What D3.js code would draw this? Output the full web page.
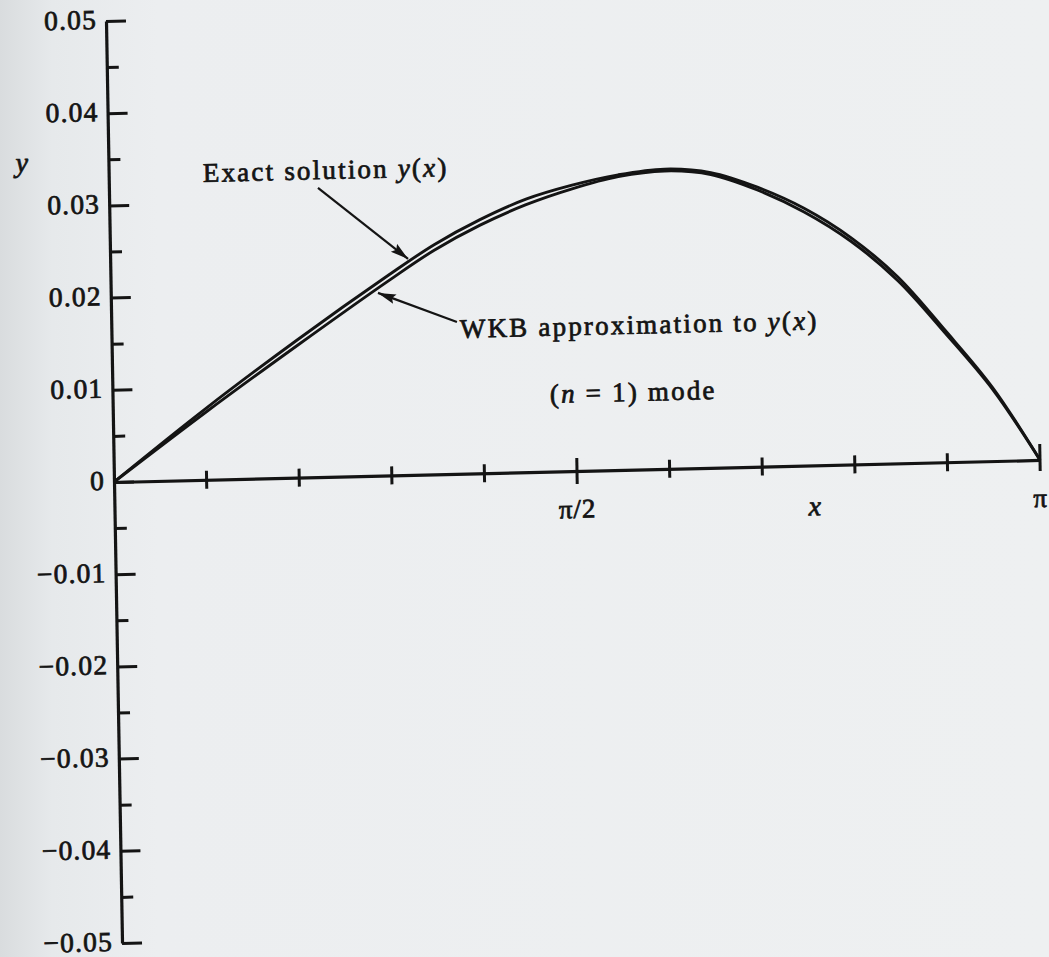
<!DOCTYPE html>
<html><head><meta charset="utf-8">
<script src="https://cdn.jsdelivr.net/npm/d3@7"></script>
<style>
html,body{margin:0;padding:0;background:#eceef0;}
svg{display:block;}
text{font-family:"Liberation Serif","Times New Roman",serif;fill:#141414;stroke:#141414;stroke-width:0.75px;}
</style></head><body>
<svg id="chart" width="1049" height="957"></svg>
<script>
// x is in units of pi
const xValues     = [0, 0.1, 0.2, 0.3, 0.35, 0.4, 0.45, 0.5, 0.55, 0.6, 0.65, 0.7, 0.75, 0.8, 0.85, 0.9, 0.95, 1];
const exactValues = [0, 0.0077, 0.0149, 0.0217, 0.0249, 0.0275, 0.0296, 0.0310, 0.0320, 0.0325, 0.0320, 0.0303, 0.0279, 0.0246, 0.0202, 0.0143, 0.0080, 0];
const wkbValues   = [0, 0.0073, 0.0143, 0.0211, 0.0243, 0.0269, 0.0290, 0.0306, 0.0318, 0.0323, 0.0318, 0.0300, 0.0275, 0.0242, 0.0198, 0.0140, 0.0078, 0];

const xTickValues = [0, 0.1, 0.2, 0.3, 0.4, 0.5, 0.6, 0.7, 0.8, 0.9, 1];
const xTickLabels = [{value: 0.5, label: "π/2"}, {value: 1, label: "π"}];
const yMajorTicks = [0.05, 0.04, 0.03, 0.02, 0.01, 0, -0.01, -0.02, -0.03, -0.04, -0.05];
const yMajorLabels = ["0.05", "0.04", "0.03", "0.02", "0.01", "0", "−0.01", "−0.02", "−0.03", "−0.04", "−0.05"];
const yMinorTicks = [0.045, 0.035, 0.025, 0.015, 0.005, -0.005, -0.015, -0.025, -0.035, -0.045];

// annotation parts: [text, italic?]
const annotations = [
  {parts: [["Exact solution ", false], ["y", true], ["(", false], ["x", true], [")", false]], x: 0.1017, y: 0.0323},
  {parts: [["WKB approximation to ", false], ["y", true], ["(", false], ["x", true], [")", false]], x: 0.3762, y: 0.01473},
  {parts: [["(", false], ["n", true], [" = 1) mode", false]], x: 0.4721, y: 0.00744}
];
const arrows = [
  {from: [0.2257, 0.03136], to: [0.3216, 0.02343]},
  {from: [0.3732, 0.01646], to: [0.2885, 0.01982]}
];

const svg = d3.select("#chart");
const defs = svg.append("defs");
const grad = defs.append("linearGradient").attr("id", "bg").attr("x1", "0").attr("x2", "1").attr("y1", "0").attr("y2", "0");
grad.append("stop").attr("offset", "0").attr("stop-color", "#d9dcde");
grad.append("stop").attr("offset", "0.05").attr("stop-color", "#e6e9eb");
grad.append("stop").attr("offset", "0.15").attr("stop-color", "#eceef0");
grad.append("stop").attr("offset", "1").attr("stop-color", "#eef0f1");
svg.append("rect").attr("width", 1049).attr("height", 957).attr("fill", "url(#bg)");

defs.append("marker").attr("id", "ah").attr("markerUnits", "userSpaceOnUse")
  .attr("markerWidth", 20).attr("markerHeight", 12).attr("refX", 18).attr("refY", 5)
  .attr("orient", "auto")
  .append("path").attr("d", "M0,0 L18,5 L0,10 L3,5 Z").attr("fill", "#141414");

const g = svg.append("g").attr("transform", "matrix(1,-0.0238,0.0174,1,114,482)");

const x = d3.scaleLinear().domain([0, 1]).range([0, 926]);
const y = d3.scaleLinear().domain([-0.05, 0.05]).range([461, -461]);

// y axis (ticks to the right, labels on the left)
const yAxis = g.append("g").call(d3.axisLeft(y).tickValues(yMajorTicks).tickSizeInner(-20).tickSizeOuter(0).tickPadding(9)
  .tickFormat((d, i) => yMajorLabels[i]));
const yMinor = g.append("g").call(d3.axisLeft(y).tickValues(yMinorTicks).tickSizeInner(-12).tickSizeOuter(0).tickFormat(""));
yMinor.select(".domain").remove();
[yAxis, yMinor].forEach(a => {
  a.attr("font-family", null).attr("font-size", null);
  a.selectAll("line").attr("stroke", "#141414").attr("stroke-width", 3);
  a.selectAll("path").attr("stroke", "#141414").attr("stroke-width", 3.2);
});
yAxis.selectAll("text").attr("font-size", 27.5).attr("fill", null).attr("dy", "0.26em").style("letter-spacing", "1.2px");

// x axis
const xAxis = g.append("g").attr("transform", `translate(0,${y(0)})`)
  .call(d3.axisBottom(x).tickValues([]).tickSizeOuter(0));
xAxis.select(".domain").attr("stroke", "#141414").attr("stroke-width", 3.2);
const tickUp = d => d === 1 ? 16 : (d === 0.5 ? 13 : 9);
const tickDown = d => d === 1 ? 11 : (d === 0.5 ? 13 : 9);
g.append("g").selectAll("line").data(xTickValues.filter(d => d > 0)).join("line")
  .attr("x1", d => x(d)).attr("x2", d => x(d))
  .attr("y1", d => y(0) - tickUp(d)).attr("y2", d => y(0) + tickDown(d))
  .attr("stroke", "#141414").attr("stroke-width", 3);

g.append("g").selectAll("text").data(xTickLabels).join("text")
  .attr("x", d => x(d.value)).attr("y", y(0) + 47)
  .attr("text-anchor", "middle").attr("font-size", 27)
  .style("letter-spacing", "1px")
  .text(d => d.label);

// axis titles
g.append("text").attr("x", x(0.756)).attr("y", y(0) + 50).attr("text-anchor", "middle")
  .attr("font-size", 28).attr("font-style", "italic").text("x");
g.append("text").attr("x", x(-0.0935)).attr("y", y(0.03386)).attr("text-anchor", "middle")
  .attr("font-size", 28).attr("font-style", "italic").text("y");

// curves
const exactData = xValues.map((v, i) => [v, exactValues[i]]);
const wkbData = xValues.map((v, i) => [v, wkbValues[i]]);
const line = d3.line().x(d => x(d[0])).y(d => y(d[1])).curve(d3.curveCatmullRom.alpha(0.5));
g.append("path").datum(wkbData).attr("d", line).attr("fill", "none").attr("stroke", "#141414").attr("stroke-width", 2.9);
g.append("path").datum(exactData).attr("d", line).attr("fill", "none").attr("stroke", "#141414").attr("stroke-width", 2.9);

// annotations
annotations.forEach(a => {
  const t = g.append("text").attr("x", x(a.x)).attr("y", y(a.y)).attr("font-size", 27).style("letter-spacing", "2.2px");
  a.parts.forEach(p => {
    const s = t.append("tspan").text(p[0]);
    if (p[1]) s.attr("font-style", "italic");
  });
});
g.append("g").selectAll("line").data(arrows).join("line")
  .attr("x1", d => x(d.from[0])).attr("y1", d => y(d.from[1]))
  .attr("x2", d => x(d.to[0])).attr("y2", d => y(d.to[1]))
  .attr("stroke", "#141414").attr("stroke-width", 2.2).attr("marker-end", "url(#ah)");
</script>
</body></html>
